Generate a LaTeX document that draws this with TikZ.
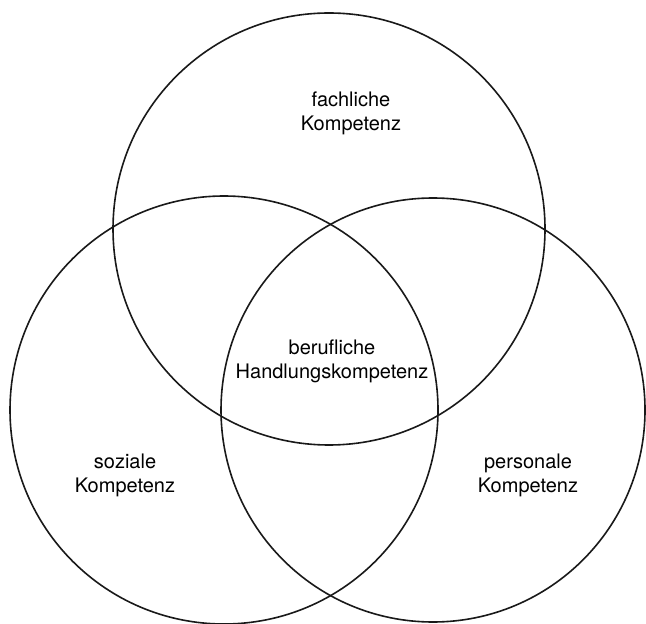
\documentclass[tikz,border=0pt]{standalone}
\usepackage{fontspec}
\setmainfont{TeX Gyre Heros}
\tikzset{every picture/.style={line width=0.8pt}}
\tikzset{kreis/.style={draw=black!90},kompetenz/.style={align=center,font=\normalsize,inner sep=0pt}}

\begin{document}
\begin{tikzpicture}[x=0.5pt,y=-0.5pt,yscale=1,xscale=1]
				\useasboundingbox (0,0) rectangle (646,624);
				\draw[kreis] (329,229) circle[radius=216]; %fachlich
				\draw[kreis] (224,410) circle[radius=214]; %sozial
				\draw[kreis] (433,410) circle[radius=212]; %personal
				\node[kompetenz] (fach) at (351,113) {fachliche\\Kompetenz};
				\node[kompetenz] (beruf) at (332,361) {berufliche\\Handlungskompetenz};
				\node[kompetenz] (sozial) at (125,475) {soziale\\Kompetenz};
				\node[kompetenz] (person) at (528,475) {personale\\Kompetenz};
			\end{tikzpicture}
\end{document}
